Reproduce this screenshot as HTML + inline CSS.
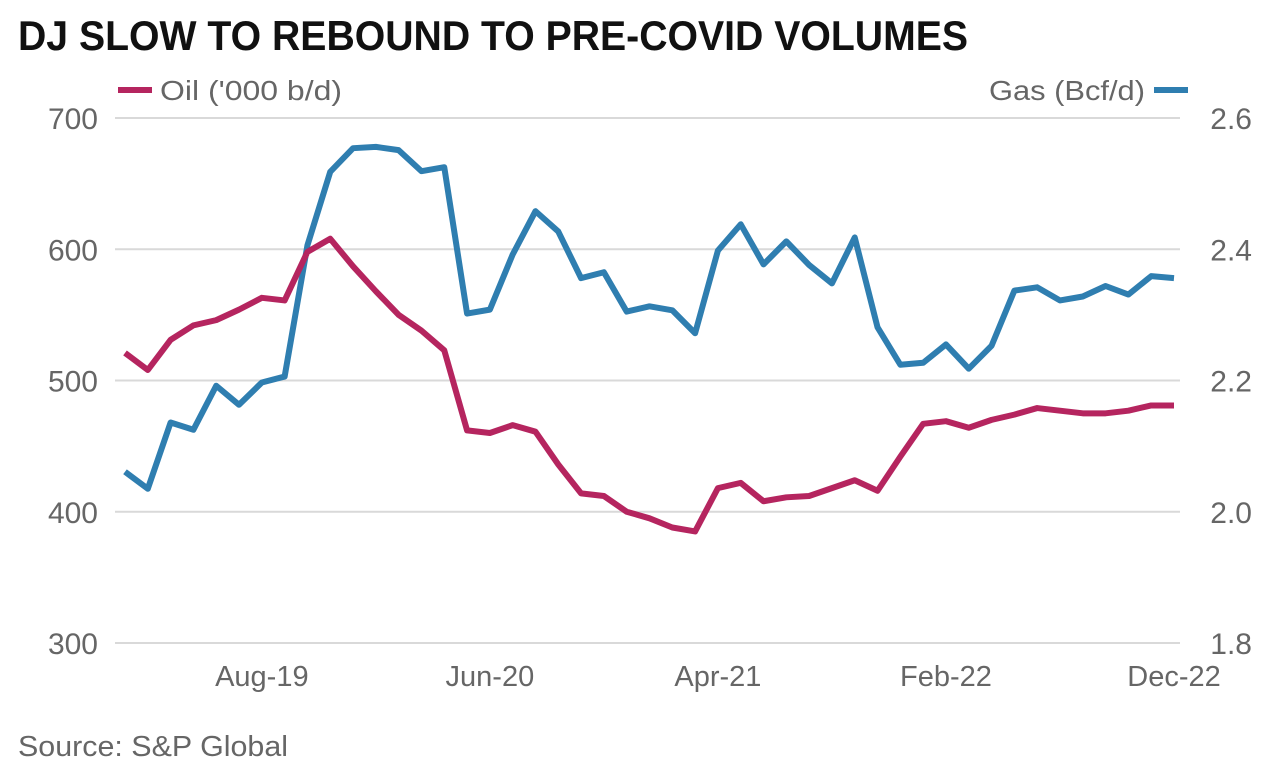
<!DOCTYPE html>
<html><head><meta charset="utf-8"><style>
body{margin:0;background:#fff;width:1276px;height:774px;overflow:hidden;font-family:"Liberation Sans",sans-serif}
</style></head><body>
<svg id="chart" width="1276" height="774" xmlns="http://www.w3.org/2000/svg">
<text x="18" y="50" font-size="42" font-weight="bold" fill="#111" textLength="950" lengthAdjust="spacingAndGlyphs">DJ SLOW TO REBOUND TO PRE-COVID VOLUMES</text>
<g><line x1="118" y1="90" x2="152" y2="90" stroke="#b5255f" stroke-width="6"/><text x="160" y="100" font-size="28" fill="#666" textLength="182" lengthAdjust="spacingAndGlyphs">Oil ('000 b/d)</text></g>
<g><text x="1145" y="100" font-size="28" fill="#666" text-anchor="end" textLength="156" lengthAdjust="spacingAndGlyphs">Gas (Bcf/d)</text><line x1="1154" y1="90" x2="1188" y2="90" stroke="#2f7eb0" stroke-width="6"/></g>
<g id="grid"></g><g id="series"></g>
<text x="18" y="756" font-size="29" fill="#666" textLength="270" lengthAdjust="spacingAndGlyphs">Source: S&amp;P Global</text>
</svg>
<script>
const months=["Feb-19","Mar-19","Apr-19","May-19","Jun-19","Jul-19","Aug-19","Sep-19","Oct-19","Nov-19","Dec-19","Jan-20","Feb-20","Mar-20","Apr-20","May-20","Jun-20","Jul-20","Aug-20","Sep-20","Oct-20","Nov-20","Dec-20","Jan-21","Feb-21","Mar-21","Apr-21","May-21","Jun-21","Jul-21","Aug-21","Sep-21","Oct-21","Nov-21","Dec-21","Jan-22","Feb-22","Mar-22","Apr-22","May-22","Jun-22","Jul-22","Aug-22","Sep-22","Oct-22","Nov-22","Dec-22"];
const oil=[521,508,531,542,546,554,563,561,598,608,587,568,550,538,523,462,460,466,461,436,414,412,400,395,388,385,418,422,408,411,412,418,424,416,442,467,469,464,470,474,479,477,475,475,477,481,481];
const gas=[2.061,2.035,2.136,2.125,2.192,2.163,2.197,2.206,2.406,2.518,2.554,2.556,2.551,2.519,2.525,2.302,2.308,2.392,2.458,2.427,2.356,2.365,2.305,2.313,2.307,2.272,2.398,2.438,2.377,2.412,2.376,2.348,2.418,2.281,2.224,2.227,2.255,2.218,2.253,2.337,2.342,2.322,2.328,2.344,2.331,2.359,2.356];
const leftTicks=[300,400,500,600,700];
const rightTicks=["1.8","2.0","2.2","2.4","2.6"];
const xLabels=["Aug-19","Jun-20","Apr-21","Feb-22","Dec-22"];
const NS="http://www.w3.org/2000/svg";
const x0=125,x1=1174,yTop=118,yBot=643;
const xs=i=>x0+(x1-x0)*i/(months.length-1);
const yL=v=>yBot-(v-300)/400*(yBot-yTop);
const yR=v=>yBot-(v-1.8)/0.8*(yBot-yTop);
function mk(t,a,p){const e=document.createElementNS(NS,t);for(const k in a)e.setAttribute(k,a[k]);p.appendChild(e);return e;}
const grid=document.getElementById('grid'),ser=document.getElementById('series');
leftTicks.forEach((v,i)=>{
 const l=mk('line',{x1:115,x2:1180,y1:yL(v),y2:yL(v),stroke:'#d9d9d9','stroke-width':2},grid);
 
 
 const t=mk('text',{x:98,y:yL(v)+11,'font-size':30,fill:'#666','text-anchor':'end'},grid);t.textContent=v;
 
 
 const r=mk('text',{x:1252,y:yL(v)+11,'font-size':30,fill:'#666','text-anchor':'end'},grid);r.textContent=rightTicks[i];
 
 
});
xLabels.forEach(lb=>{
 const i=months.indexOf(lb);
 const t=mk('text',{x:xs(i),y:686,'font-size':29,fill:'#666','text-anchor':'middle'},grid);t.textContent=lb;
 
 
});
const gp=mk('polyline',{points:gas.map((v,i)=>xs(i)+','+yR(v)).join(' '),fill:'none',stroke:'#2f7eb0','stroke-width':6,'stroke-linejoin':'round'},ser);


const op=mk('polyline',{points:oil.map((v,i)=>xs(i)+','+yL(v)).join(' '),fill:'none',stroke:'#b5255f','stroke-width':6,'stroke-linejoin':'round'},ser);


</script>
</body></html>
